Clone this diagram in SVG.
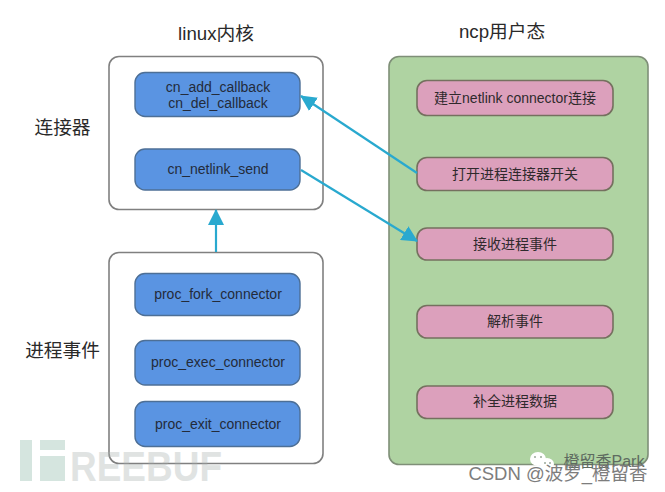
<svg xmlns="http://www.w3.org/2000/svg" width="665" height="492" viewBox="0 0 665 492">
<style>
text{font-family:"Liberation Sans","Noto Sans CJK SC",sans-serif;text-anchor:middle}
.outer{fill:#fff;stroke:#808080;stroke-width:1.6}
.blue{fill:#5a94e2;stroke:#4d6f96;stroke-width:1.4}
.pink{fill:#dca0bc;stroke:#75705f;stroke-width:1.6}
.t{font-size:14px;fill:#232b3a}
.p{font-size:14px;fill:#2f2a2c}
.h{font-size:18.700px;fill:#2a2a2a}
.c{fill:none;stroke:#29a9cf;stroke-width:2.2}
</style>
<defs>
<marker id="a" markerUnits="userSpaceOnUse" markerWidth="16" markerHeight="16" refX="15" refY="8" orient="auto"><path d="M0 0L16 8L0 16Z" fill="#29a9cf"/></marker>
</defs>
<rect width="665" height="492" fill="#fff"/>
<g id="node-linux"><text class="h" x="216" y="40">linux内核</text><rect class="outer" x="109" y="56.500" width="214" height="153" rx="10"/></g>
<g id="node-ncp"><text class="h" x="502" y="38">ncp用户态</text><rect x="389" y="56.500" width="259" height="408" rx="10" fill="#afd3a2" stroke="#7f8f78" stroke-width="1.6"/></g>
<g id="label-connector"><text class="h" x="62.500" y="134">连接器</text></g>
<g id="label-events"><text class="h" x="62.500" y="357">进程事件</text></g>
<g id="node-callback"><rect class="blue" x="135" y="72.500" width="165" height="44" rx="10"/><text class="t" x="218" y="92">cn_add_callback</text><text class="t" x="218" y="108">cn_del_callback</text></g>
<g id="node-send"><rect class="blue" x="135" y="149" width="165" height="41" rx="10"/><text class="t" x="218" y="174">cn_netlink_send</text></g>
<g id="node-events"><rect class="outer" x="109" y="252.500" width="214" height="211" rx="10"/></g>
<g id="node-fork"><rect class="blue" x="135" y="273.500" width="165" height="42" rx="10"/><text class="t" x="218" y="299">proc_fork_connector</text></g>
<g id="node-exec"><rect class="blue" x="135" y="340.500" width="165" height="44.500" rx="10"/><text class="t" x="218" y="367">proc_exec_connector</text></g>
<g id="node-exit"><rect class="blue" x="135" y="401.500" width="165" height="45" rx="10"/><text class="t" x="218" y="429">proc_exit_connector</text></g>
<g id="node-p1"><rect class="pink" x="417" y="80.500" width="196" height="35" rx="10"/><text class="p" x="515" y="103">建立netlink connector连接</text></g>
<g id="node-p2"><rect class="pink" x="417" y="157.500" width="196" height="33" rx="10"/><text class="p" x="515" y="179">打开进程连接器开关</text></g>
<g id="node-p3"><rect class="pink" x="417" y="228" width="196" height="32" rx="10"/><text class="p" x="515" y="249">接收进程事件</text></g>
<g id="node-p4"><rect class="pink" x="417" y="305.500" width="196" height="32.500" rx="10"/><text class="p" x="515" y="326">解析事件</text></g>
<g id="node-p5"><rect class="pink" x="417" y="386" width="196" height="32.500" rx="10"/><text class="p" x="515" y="406">补全进程数据</text></g>
<g id="connectors">
<path class="c" d="M417 173L301 96" marker-end="url(#a)"/>
<path class="c" d="M301 170L417 241" marker-end="url(#a)"/>
<path class="c" d="M216 252V210" marker-end="url(#a)"/>
</g>
<g id="watermark-freebuf">
<rect x="20" y="440" width="12" height="41" fill="#d5e5df"/>
<rect x="40" y="440" width="25" height="10" fill="#d5e5df"/>
<rect x="40" y="456" width="25" height="25" fill="#d5e5df"/>
<text x="146" y="481" style="font-size:42px;font-weight:700;fill:#a8b0ae" opacity=".35" textLength="152" lengthAdjust="spacingAndGlyphs">REEBUF</text>
</g>
<g id="watermark-csdn">
<ellipse cx="538" cy="459" rx="8" ry="7" fill="#fff"/><ellipse cx="547" cy="464" rx="7" ry="6" fill="#fff"/>
<circle cx="535" cy="457" r="1" fill="#9aa89a"/><circle cx="541" cy="457" r="1" fill="#9aa89a"/><circle cx="545" cy="463" r="1" fill="#9aa89a"/><circle cx="550" cy="463" r="1" fill="#9aa89a"/>
<text x="604" y="467" style="font-size:16px;fill:#5e6b60">橙留香Park</text>
<text x="558" y="480" style="font-size:18.500px;fill:#7d7d7d">CSDN @波罗_橙留香</text>
</g>
</svg>
